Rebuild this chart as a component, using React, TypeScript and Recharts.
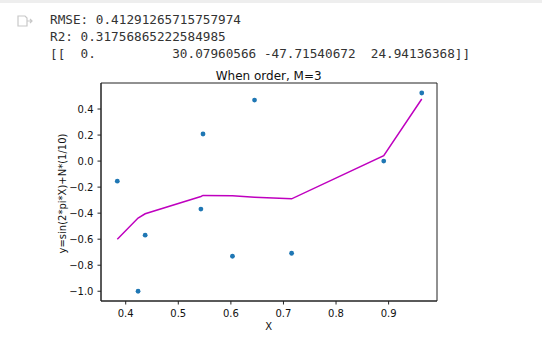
import { ReferenceArea, Scatter, ScatterChart, XAxis, YAxis } from "recharts";

// sample points (sorted by x) and the fitted M=3 curve at the same x
const xs = [0.384, 0.4235, 0.437, 0.543, 0.547, 0.603, 0.645, 0.7155, 0.8907, 0.963];
const yObs = [-0.154, -1.0, -0.569, -0.369, 0.208, -0.731, 0.469, -0.708, 0.0, 0.523];
const yFit = [-0.6, -0.438, -0.405, -0.272, -0.264, -0.267, -0.277, -0.29, 0.041, 0.477];

const xTicks = [0.4, 0.5, 0.6, 0.7, 0.8, 0.9];
const yTicks = [-1.0, -0.8, -0.6, -0.4, -0.2, 0.0, 0.2, 0.4];
const xDomain = [0.353, 0.992];
const yDomain = [-1.075, 0.6];

const outputLines = [
  "RMSE: 0.41291265715757974",
  "R2: 0.31756865222584985",
  "[[  0.          30.07960566 -47.71540672  24.94136368]]",
];

const points = xs.map((x, i) => ({ x, y: yObs[i] }));
const fit = xs.map((x, i) => ({ x, y: yFit[i] }));

const fmt = (v: number) => v.toFixed(1).replace("-", "\u2212");
const frame = { stroke: "#222", strokeWidth: 1 };
const tickStyle = { fontSize: 10, fill: "#111", fontFamily: "DejaVu Sans" };

const Dot = (props: any) => (
  <circle cx={props.cx} cy={props.cy} r={2.4} fill="#1f77b4" />
);

export default function App() {
  return (
    <div
      style={{
        position: "fixed",
        top: 0,
        left: 0,
        width: 542,
        height: 360,
        background: "#fff",
        fontFamily: "DejaVu Sans",
        overflow: "hidden",
      }}
    >
      <div style={{ position: "absolute", top: 0, left: 0, width: 542, height: 3, background: "#eeeeee" }} />
      <svg style={{ position: "absolute", left: 17, top: 15 }} width={16} height={12} viewBox="0 0 16 12">
        <path d="M1 1 H8 L10 3 V11 H1 Z" fill="none" stroke="#c8c8c8" strokeWidth={1.2} />
        <path d="M10 6 H15 M13 4 L15 6 L13 8" fill="none" stroke="#c8c8c8" strokeWidth={1.2} />
      </svg>
      <div
        style={{
          position: "absolute",
          left: 50,
          top: 11,
          fontFamily: "DejaVu Sans Mono",
          fontSize: 12.7,
          lineHeight: "17px",
          whiteSpace: "pre",
          color: "#333",
        }}
      >
        {outputLines.join("\n")}
      </div>
      <div
        style={{
          position: "absolute",
          left: 168.7,
          width: 200,
          top: 68,
          textAlign: "center",
          fontSize: 12,
          lineHeight: "16px",
          color: "#111",
        }}
      >
        When order, M=3
      </div>
      <div
        style={{
          position: "absolute",
          left: 168.7,
          width: 200,
          top: 320,
          textAlign: "center",
          fontSize: 10,
          lineHeight: "13px",
          color: "#111",
        }}
      >
        X
      </div>
      <div
        style={{
          position: "absolute",
          left: 61.5 - 100,
          width: 200,
          top: 193.3 - 6.5,
          textAlign: "center",
          fontSize: 10,
          lineHeight: "13px",
          color: "#111",
          transform: "rotate(-90deg)",
          whiteSpace: "nowrap",
        }}
      >
        y=sin(2*pi*X)+N*(1/10)
      </div>
      <div style={{ position: "absolute", left: 0, top: 0 }}>
        <ScatterChart width={542} height={360} margin={{ top: 83, right: 105, bottom: 29, left: 61 }}>
          <XAxis
            type="number"
            dataKey="x"
            domain={xDomain}
            ticks={xTicks}
            tickFormatter={fmt}
            allowDataOverflow
            height={30}
            tickSize={3.5}
            tickMargin={5}
            tick={tickStyle}
            axisLine={frame}
            tickLine={frame}
          />
          <YAxis
            type="number"
            dataKey="y"
            domain={yDomain}
            ticks={yTicks}
            tickFormatter={fmt}
            allowDataOverflow
            width={40}
            tickSize={3.5}
            tickMargin={4}
            tick={tickStyle}
            axisLine={frame}
            tickLine={frame}
          />
          <ReferenceArea
            x1={xDomain[0]}
            x2={xDomain[1]}
            y1={yDomain[0]}
            y2={yDomain[1]}
            fill="none"
            stroke="#222"
            strokeWidth={1}
            ifOverflow="visible"
          />
          <Scatter data={points} shape={Dot} isAnimationActive={false} />
          <Scatter
            data={fit}
            line={{ stroke: "#bf00bf", strokeWidth: 1.5 }}
            lineType="joint"
            shape={() => <g />}
            isAnimationActive={false}
          />
        </ScatterChart>
      </div>
    </div>
  );
}
